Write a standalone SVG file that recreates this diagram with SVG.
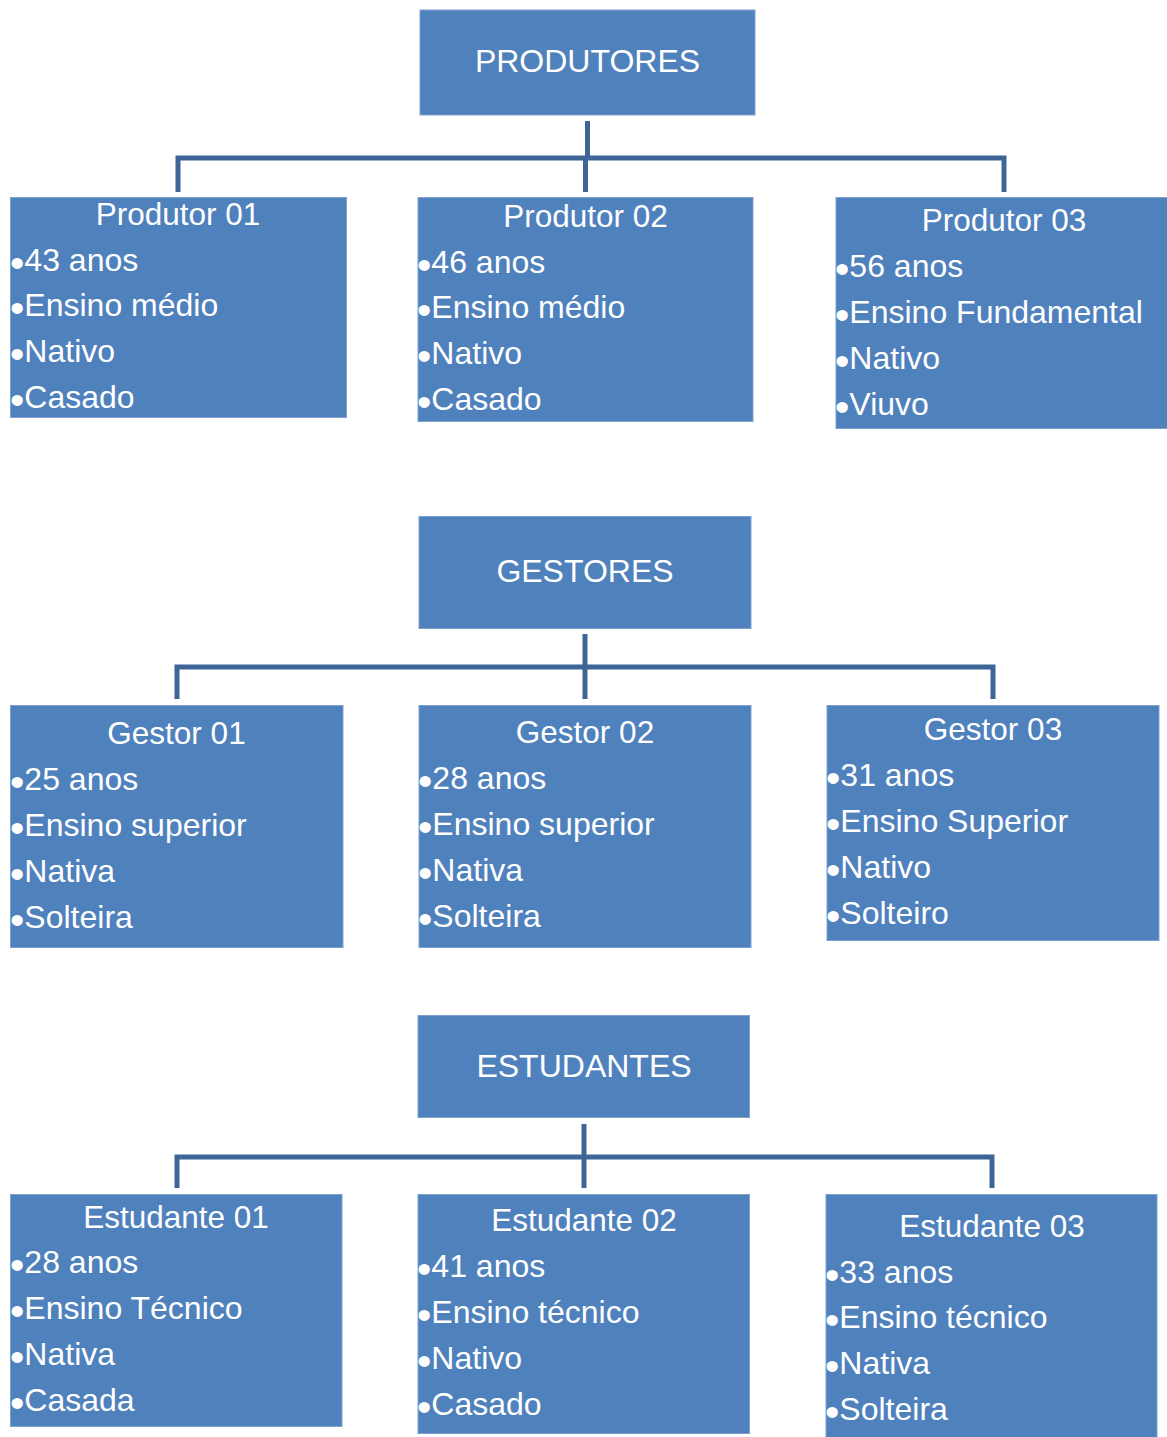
<svg xmlns="http://www.w3.org/2000/svg" width="1167" height="1437" viewBox="0 0 1167 1437">
<style>
  .box { fill: #4F81BD; stroke: #7FA1D0; stroke-width: 1; }
  .hdr { font-family: "Liberation Sans", Arial, sans-serif; font-size: 32px; fill: #FFFFFF; text-anchor: middle; }
  .ttl { font-family: "Liberation Sans", Arial, sans-serif; font-size: 31.5px; fill: #FFFFFF; text-anchor: middle; }
  .itm { font-family: "Liberation Sans", Arial, sans-serif; font-size: 32px; fill: #FFFFFF; }
  .b { font-size: 41px; }
  .con { fill: none; stroke: #3D6596; stroke-width: 5; stroke-linejoin: miter; }
</style>
<rect width="1167" height="1437" fill="#FFFFFF"/>

<g id="connectors">
  <path class="con" d="M587.5,121 V158"/>
  <path class="con" d="M178,192 V158 H1004 V192"/>
  <path class="con" d="M585.5,158 V192"/>

  <path class="con" d="M585,634 V667"/>
  <path class="con" d="M177,699 V667 H993 V699"/>
  <path class="con" d="M585,667 V699"/>

  <path class="con" d="M584,1124 V1157"/>
  <path class="con" d="M177,1188 V1157 H992 V1188"/>
  <path class="con" d="M584,1157 V1188"/>
</g>

<g id="produtores">
  <rect class="box" x="420" y="10" width="335" height="105"/>
  <text class="hdr" x="587.5" y="72">PRODUTORES</text>
</g>
<g id="produtor01">
  <rect class="box" x="10.5" y="197.5" width="336" height="220"/>
  <text class="ttl" x="178" y="225">Produtor 01</text>
  <text class="itm" x="10" y="271"><tspan class="b" dy="6">•</tspan><tspan dy="-6">43 anos</tspan></text>
  <text class="itm" x="10" y="316"><tspan class="b" dy="6">•</tspan><tspan dy="-6">Ensino médio</tspan></text>
  <text class="itm" x="10" y="362"><tspan class="b" dy="6">•</tspan><tspan dy="-6">Nativo</tspan></text>
  <text class="itm" x="10" y="408"><tspan class="b" dy="6">•</tspan><tspan dy="-6">Casado</tspan></text>
</g>
<g id="produtor02">
  <rect class="box" x="418" y="197.5" width="335" height="224"/>
  <text class="ttl" x="585.5" y="227">Produtor 02</text>
  <text class="itm" x="417" y="273"><tspan class="b" dy="6">•</tspan><tspan dy="-6">46 anos</tspan></text>
  <text class="itm" x="417" y="318"><tspan class="b" dy="6">•</tspan><tspan dy="-6">Ensino médio</tspan></text>
  <text class="itm" x="417" y="364"><tspan class="b" dy="6">•</tspan><tspan dy="-6">Nativo</tspan></text>
  <text class="itm" x="417" y="410"><tspan class="b" dy="6">•</tspan><tspan dy="-6">Casado</tspan></text>
</g>
<g id="produtor03">
  <rect class="box" x="836" y="197.5" width="340" height="231"/>
  <text class="ttl" x="1004" y="231">Produtor 03</text>
  <text class="itm" x="835" y="277"><tspan class="b" dy="6">•</tspan><tspan dy="-6">56 anos</tspan></text>
  <text class="itm" x="835" y="323"><tspan class="b" dy="6">•</tspan><tspan dy="-6">Ensino Fundamental</tspan></text>
  <text class="itm" x="835" y="369"><tspan class="b" dy="6">•</tspan><tspan dy="-6">Nativo</tspan></text>
  <text class="itm" x="835" y="415"><tspan class="b" dy="6">•</tspan><tspan dy="-6">Viuvo</tspan></text>
</g>

<g id="gestores">
  <rect class="box" x="419" y="516.5" width="332" height="112"/>
  <text class="hdr" x="585" y="582">GESTORES</text>
</g>
<g id="gestor01">
  <rect class="box" x="10.5" y="705.5" width="332.5" height="242"/>
  <text class="ttl" x="176.5" y="744">Gestor 01</text>
  <text class="itm" x="10" y="790"><tspan class="b" dy="6">•</tspan><tspan dy="-6">25 anos</tspan></text>
  <text class="itm" x="10" y="836"><tspan class="b" dy="6">•</tspan><tspan dy="-6">Ensino superior</tspan></text>
  <text class="itm" x="10" y="882"><tspan class="b" dy="6">•</tspan><tspan dy="-6">Nativa</tspan></text>
  <text class="itm" x="10" y="928"><tspan class="b" dy="6">•</tspan><tspan dy="-6">Solteira</tspan></text>
</g>
<g id="gestor02">
  <rect class="box" x="419" y="705.5" width="332" height="242"/>
  <text class="ttl" x="585" y="743">Gestor 02</text>
  <text class="itm" x="418" y="789"><tspan class="b" dy="6">•</tspan><tspan dy="-6">28 anos</tspan></text>
  <text class="itm" x="418" y="835"><tspan class="b" dy="6">•</tspan><tspan dy="-6">Ensino superior</tspan></text>
  <text class="itm" x="418" y="881"><tspan class="b" dy="6">•</tspan><tspan dy="-6">Nativa</tspan></text>
  <text class="itm" x="418" y="927"><tspan class="b" dy="6">•</tspan><tspan dy="-6">Solteira</tspan></text>
</g>
<g id="gestor03">
  <rect class="box" x="827" y="705.5" width="332" height="235"/>
  <text class="ttl" x="993" y="740">Gestor 03</text>
  <text class="itm" x="826" y="786"><tspan class="b" dy="6">•</tspan><tspan dy="-6">31 anos</tspan></text>
  <text class="itm" x="826" y="832"><tspan class="b" dy="6">•</tspan><tspan dy="-6">Ensino Superior</tspan></text>
  <text class="itm" x="826" y="878"><tspan class="b" dy="6">•</tspan><tspan dy="-6">Nativo</tspan></text>
  <text class="itm" x="826" y="924"><tspan class="b" dy="6">•</tspan><tspan dy="-6">Solteiro</tspan></text>
</g>

<g id="estudantes">
  <rect class="box" x="418" y="1015.5" width="331.5" height="102"/>
  <text class="hdr" x="584" y="1077">ESTUDANTES</text>
</g>
<g id="estudante01">
  <rect class="box" x="10.5" y="1194.5" width="331.5" height="232"/>
  <text class="ttl" x="176" y="1228">Estudante 01</text>
  <text class="itm" x="10" y="1273"><tspan class="b" dy="6">•</tspan><tspan dy="-6">28 anos</tspan></text>
  <text class="itm" x="10" y="1319"><tspan class="b" dy="6">•</tspan><tspan dy="-6">Ensino Técnico</tspan></text>
  <text class="itm" x="10" y="1365"><tspan class="b" dy="6">•</tspan><tspan dy="-6">Nativa</tspan></text>
  <text class="itm" x="10" y="1411"><tspan class="b" dy="6">•</tspan><tspan dy="-6">Casada</tspan></text>
</g>
<g id="estudante02">
  <rect class="box" x="418" y="1194.5" width="331.5" height="239"/>
  <text class="ttl" x="584" y="1231">Estudante 02</text>
  <text class="itm" x="417" y="1277"><tspan class="b" dy="6">•</tspan><tspan dy="-6">41 anos</tspan></text>
  <text class="itm" x="417" y="1323"><tspan class="b" dy="6">•</tspan><tspan dy="-6">Ensino técnico</tspan></text>
  <text class="itm" x="417" y="1369"><tspan class="b" dy="6">•</tspan><tspan dy="-6">Nativo</tspan></text>
  <text class="itm" x="417" y="1415"><tspan class="b" dy="6">•</tspan><tspan dy="-6">Casado</tspan></text>
</g>
<g id="estudante03">
  <rect class="box" x="826" y="1194.5" width="331" height="250"/>
  <text class="ttl" x="992" y="1237">Estudante 03</text>
  <text class="itm" x="825" y="1283"><tspan class="b" dy="6">•</tspan><tspan dy="-6">33 anos</tspan></text>
  <text class="itm" x="825" y="1328"><tspan class="b" dy="6">•</tspan><tspan dy="-6">Ensino técnico</tspan></text>
  <text class="itm" x="825" y="1374"><tspan class="b" dy="6">•</tspan><tspan dy="-6">Nativa</tspan></text>
  <text class="itm" x="825" y="1420"><tspan class="b" dy="6">•</tspan><tspan dy="-6">Solteira</tspan></text>
</g>
</svg>
